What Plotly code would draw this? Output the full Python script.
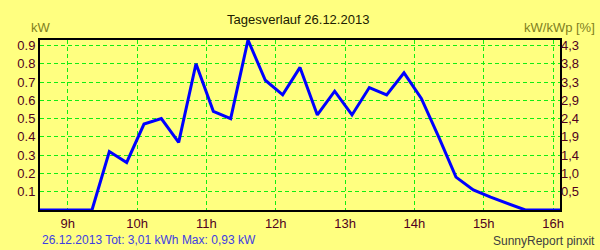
import plotly.graph_objects as go

hours = [8.6, 8.85, 9.1, 9.35, 9.6, 9.85, 10.1, 10.35, 10.6, 10.85, 11.1, 11.35,
         11.6, 11.85, 12.1, 12.35, 12.6, 12.85, 13.1, 13.35, 13.6, 13.85, 14.1,
         14.35, 14.6, 14.85, 15.1, 15.35, 15.6, 15.85, 16.1]
power_kw = [0, 0, 0, 0, 0.32, 0.26, 0.47, 0.50, 0.37, 0.80, 0.54, 0.50,
            0.93, 0.71, 0.63, 0.78, 0.52, 0.65, 0.52, 0.67, 0.63, 0.75, 0.61,
            0.40, 0.18, 0.11, 0.07, 0.035, 0, 0, 0]

x_ticks = [9, 10, 11, 12, 13, 14, 15, 16]
x_tick_labels = ["9h", "10h", "11h", "12h", "13h", "14h", "15h", "16h"]
y_ticks = [0.1, 0.2, 0.3, 0.4, 0.5, 0.6, 0.7, 0.8, 0.9]
y_tick_labels = ["0.1", "0.2", "0.3", "0.4", "0.5", "0.6", "0.7", "0.8", "0.9"]
y2_tick_labels = ["0,5", "1,0", "1,4", "1,9", "2,4", "2,9", "3,3", "3,8", "4,3"]

FONT = "Liberation Sans, Arial, sans-serif"
BG = "#FFFF80"
GRID = "#11EE11"
TICKC = "#500020"

fig = go.Figure()
fig.add_trace(go.Scatter(x=hours, y=power_kw, mode="lines",
                         line=dict(color="#0000FF", width=3),
                         hoverinfo="skip", showlegend=False))
# invisible trace for right axis
fig.add_trace(go.Scatter(x=hours, y=power_kw, mode="lines", yaxis="y2",
                         line=dict(color="rgba(0,0,0,0)", width=0),
                         hoverinfo="skip", showlegend=False))

fig.update_layout(
    width=600, height=250,
    margin=dict(l=40, r=40, t=40, b=40),
    paper_bgcolor=BG, plot_bgcolor=BG,
    font=dict(family=FONT, size=13, color=TICKC),
    xaxis=dict(range=[8.6, 16.1], tickvals=x_ticks, ticktext=x_tick_labels,
               showgrid=True, gridcolor=GRID, griddash="4px,3px", gridwidth=1,
               showline=True, linecolor="black", linewidth=2, mirror=True,
               zeroline=False, ticks="", tickfont=dict(size=13, color=TICKC)),
    yaxis=dict(range=[0, 0.93], tickvals=y_ticks, ticktext=y_tick_labels,
               showgrid=True, gridcolor=GRID, griddash="4px,3px", gridwidth=1,
               showline=True, linecolor="black", linewidth=2, mirror=True,
               zeroline=False, ticks="", tickfont=dict(size=13, color=TICKC)),
    yaxis2=dict(range=[0, 0.93], tickvals=y_ticks, ticktext=y2_tick_labels,
                overlaying="y", side="right", showgrid=False, zeroline=False,
                ticks="", tickfont=dict(size=13, color=TICKC)),
    annotations=[
        dict(text="Tagesverlauf 26.12.2013", x=298, y=20, showarrow=False,
             font=dict(size=13, color="#202000")),
        dict(text="kW", x=41, y=27, showarrow=False, font=dict(size=13, color="#808020")),
        dict(text="kW/kWp [%]", x=597, y=27, xanchor="right", showarrow=False,
             font=dict(size=13, color="#808020")),
        dict(text="26.12.2013 Tot: 3,01 kWh Max: 0,93 kW", x=40, y=240, xanchor="left",
             showarrow=False, font=dict(size=12, color="#4040E0")),
        dict(text="SunnyReport pinxit", x=597, y=241, xanchor="right", showarrow=False,
             font=dict(size=12, color="#404040")),
    ],
)

# convert pixel positions of annotations to paper coords
ann = []
for a in fig.layout.annotations:
    px, py = a.x, a.y
    a.update(xref="paper", yref="paper",
             x=(px - 40) / 520, y=(210 - py) / 170, yanchor="middle")
    if a.xanchor is None:
        a.update(xanchor="center")
    ann.append(a)
fig.layout.annotations = ann

fig.write_html("out.html")
